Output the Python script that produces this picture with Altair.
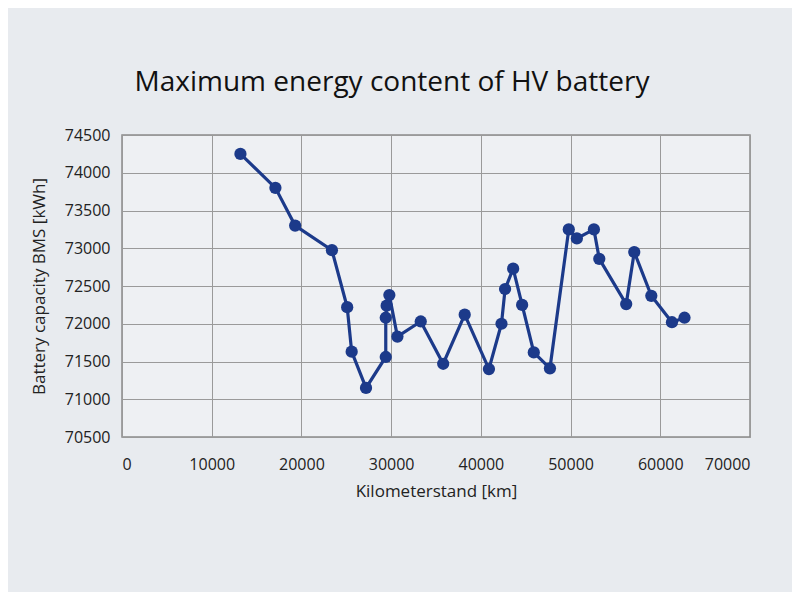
import altair as alt
import pandas as pd

km = [13200, 17100, 19300, 23400, 25100, 25600, 27200, 29400, 29400, 29500, 29800,
      30700, 33300, 35800, 38200, 40900, 42300, 42700, 43600, 44600, 45900, 47700,
      49800, 50700, 52600, 53200, 56200, 57100, 59000, 61300, 62700]
capacity = [74250, 73800, 73300, 72975, 72220, 71630, 71150, 71560, 72080, 72240, 72380,
            71830, 72030, 71470, 72120, 71400, 72000, 72460, 72730, 72250, 71620, 71410,
            73250, 73130, 73250, 72860, 72260, 72950, 72370, 72020, 72080]
order = list(range(len(km)))

df = pd.DataFrame({"km": km, "cap": capacity, "order": order})

font = "Open Sans"
color = "#1c3a8a"

x = alt.X("km:Q", scale=alt.Scale(domain=[0, 70000], nice=False),
          axis=alt.Axis(values=[0, 10000, 20000, 30000, 40000, 50000, 60000, 70000],
                        format="d", title="Kilometerstand [km]", labelFontSize=16,
                        titleFontSize=17, labelPadding=19, titlePadding=11,
                        ticks=False, domain=False, gridColor="#9a9a9a",
                        labelFont=font, titleFont=font, labelColor="#222",
                        titleColor="#222", titleFontWeight="normal"))
y = alt.Y("cap:Q", scale=alt.Scale(domain=[70500, 74500], nice=False, zero=False),
          axis=alt.Axis(values=list(range(70500, 75000, 500)), format="d",
                        title="Battery capacity BMS [kWh]", labelFontSize=16,
                        titleFontSize=17, labelPadding=12, titlePadding=16,
                        ticks=False, domain=False, gridColor="#9a9a9a",
                        labelFont=font, titleFont=font, labelColor="#222",
                        titleColor="#222", titleFontWeight="normal"))

base = alt.Chart(df)
line = base.mark_line(color=color, strokeWidth=3.2).encode(x=x, y=y, order="order:Q")
pts = base.mark_point(color=color, filled=True, opacity=1, size=150).encode(x=x, y=y)

chart = (line + pts).properties(
    width=628, height=302,
    title=alt.Title("Maximum energy content of HV battery", fontSize=28, font=font,
                    fontWeight="normal", color="#111", offset=30, dx=-44),
    autosize=alt.AutoSizeParams(type="none"),
    padding={"left": 114, "top": 127, "right": 42, "bottom": 155},
    background="#e8ebef",
).configure_view(stroke="#8a8a8a", strokeWidth=1.5, fill="#eef0f3")

chart.save("out.html", embed_options={"renderer": "svg", "actions": False})
